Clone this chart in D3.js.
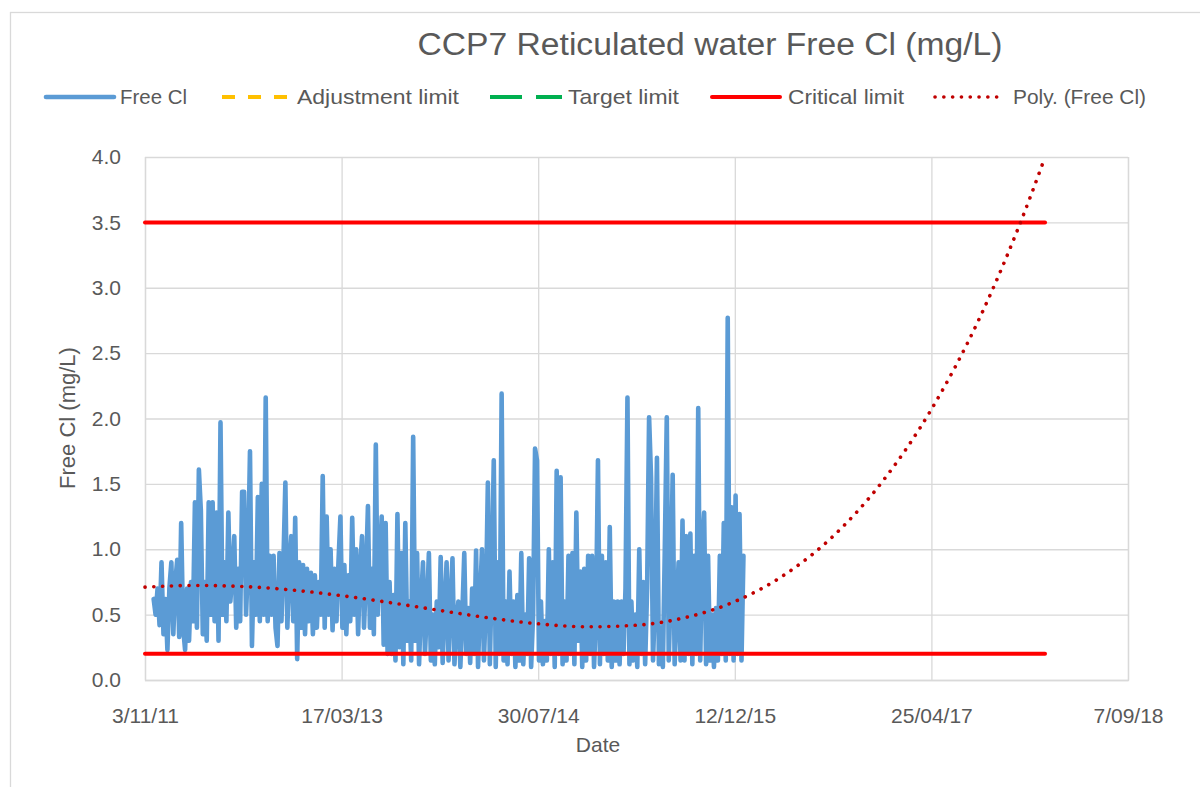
<!DOCTYPE html>
<html>
<head>
<meta charset="utf-8">
<script src="https://cdn.jsdelivr.net/npm/d3@7"></script>
<style>
  html, body { margin: 0; padding: 0; background: #fff; }
  svg { display: block; font-family: "Liberation Sans", Arial, sans-serif; }
</style>
</head>
<body>
<svg id="chart" width="1200" height="787"></svg>
<script>
// ---------- DATA ----------
const chartTitle = "CCP7 Reticulated water Free Cl (mg/L)";
const xTickDates = ["2011-11-03", "2013-03-17", "2014-07-30", "2015-12-12", "2017-04-25", "2018-09-07"];
const yTicks = [0, 0.5, 1.0, 1.5, 2.0, 2.5, 3.0, 3.5, 4.0];

// Free Cl readings, one every 5 days starting 25/11/2011
const freeClStart = "2011-11-25";
const freeClStepDays = 5;
const freeClValues = [
  0.62, 0.5, 0.7, 0.42, 0.9, 0.35, 0.62, 0.23, 0.7, 0.9,
  0.35, 0.75, 0.92, 0.33, 1.2, 0.4, 0.23, 0.7, 0.3, 0.75,
  0.45, 1.36, 0.4, 1.61, 1.3, 0.35, 0.75, 0.3, 1.36, 0.5,
  1.36, 0.45, 1.28, 0.3, 1.97, 0.5, 0.9, 0.45, 1.28, 0.6,
  0.8, 1.1, 0.4, 0.85, 0.45, 1.44, 1.44, 0.5, 0.9, 1.75,
  0.26, 0.9, 0.5, 1.4, 0.45, 1.5, 0.5, 2.16, 0.45, 0.95,
  0.5, 0.95, 0.4, 0.26, 0.97, 0.45, 0.9, 1.51, 0.4, 0.85,
  1.1, 0.45, 1.24, 0.16, 0.9, 0.4, 0.88, 0.35, 0.85, 0.45,
  0.82, 0.35, 0.8, 0.4, 0.75, 0.5, 1.56, 0.4, 1.25, 0.5,
  1.0, 0.38, 0.85, 0.45, 0.9, 1.25, 0.4, 0.88, 0.35, 0.8,
  0.45, 1.24, 0.5, 1.0, 0.35, 0.85, 1.1, 0.4, 0.8, 1.33,
  0.4, 0.85, 0.35, 1.8, 0.5, 0.9, 1.25, 0.27, 1.2, 0.2,
  0.75, 0.2, 0.65, 0.15, 1.27, 0.25, 0.97, 0.12, 1.2, 0.3,
  0.6, 0.15, 1.86, 0.3, 0.97, 0.12, 0.6, 0.9, 0.2, 0.55,
  0.97, 0.15, 0.5, 0.12, 0.6, 0.25, 0.94, 0.13, 0.55, 0.9,
  0.15, 0.6, 0.93, 0.12, 0.45, 0.6, 0.1, 0.5, 0.97, 0.2,
  0.55, 0.13, 0.7, 0.2, 0.99, 0.1, 0.6, 1.0, 0.15, 0.6,
  1.51, 0.12, 0.8, 1.68, 0.1, 0.9, 0.2, 2.19, 0.15, 0.6,
  0.12, 0.83, 0.2, 0.6, 0.1, 0.65, 0.15, 0.97, 0.12, 0.5,
  0.2, 0.93, 0.1, 0.5, 1.77, 1.68, 0.15, 0.6, 0.12, 0.45,
  0.15, 1.0, 0.2, 0.9, 0.1, 1.6, 0.2, 1.55, 0.12, 0.6,
  0.15, 0.95, 0.2, 0.97, 0.12, 1.28, 0.3, 0.83, 0.1, 0.85,
  0.15, 0.95, 0.2, 0.95, 0.1, 0.5, 1.68, 0.12, 0.95, 0.2,
  0.9, 0.15, 1.17, 0.1, 0.6, 0.15, 0.6, 0.12, 0.6, 0.2,
  0.7, 2.16, 0.12, 0.6, 0.15, 0.5, 0.1, 1.0, 0.2, 0.75,
  0.12, 0.7, 2.01, 1.55, 0.15, 0.6, 1.7, 0.12, 0.4, 0.1,
  1.0, 2.01, 0.15, 0.7, 1.57, 0.12, 0.5, 0.9, 0.15, 1.22,
  0.15, 1.1, 0.2, 1.12, 0.12, 0.95, 0.2, 2.08, 0.15, 1.0,
  1.28, 0.12, 0.95, 0.15, 0.5, 0.1, 0.55, 0.15, 0.95, 0.2,
  1.2, 0.15, 2.77, 0.2, 1.32, 0.15, 1.41, 0.2, 1.27, 0.15,
  0.95
];

// Critical limits (two horizontal series)
const limitDates = ["2011-11-03", "2018-02-08"];
const criticalUpper = [3.5, 3.5];
const criticalLower = [0.2, 0.2];

// Polynomial trend of Free Cl (days after 3/11/11, value)
const trendDays = [0, 125, 250, 375, 500, 625, 750, 875, 1000, 1125, 1250, 1375, 1500, 1625, 1750, 1875, 2000, 2125, 2250, 2289];
const trendValues = [0.71, 0.723, 0.715, 0.688, 0.645, 0.591, 0.532, 0.475, 0.43, 0.407, 0.419, 0.478, 0.6, 0.802, 1.10, 1.516, 2.07, 2.784, 3.682, 4.0];

const legendItems = [
  {name: "Free Cl", key: "free"},
  {name: "Adjustment limit", key: "adj"},
  {name: "Target limit", key: "target"},
  {name: "Critical limit", key: "critical"},
  {name: "Poly. (Free Cl)", key: "poly"}
];

// ---------- LAYOUT / STYLE ----------
const M = {left: 145, right: 1128, top: 157, bottom: 680};
const textColor = "#595959";
const gridColor = "#d9d9d9";
const styles = {
  free:     {stroke: "#5b9bd5", width: 4.6, dash: null, cap: "round"},
  adj:      {stroke: "#ffc000", width: 4, dash: "13 13", cap: "butt"},
  target:   {stroke: "#00b050", width: 4, dash: "32 14", cap: "butt"},
  critical: {stroke: "#ff0000", width: 4, dash: null, cap: "round"},
  poly:     {stroke: "#c00000", width: 3.6, dash: "0.1 8.7", cap: "round"}
};

const parse = d3.utcParse("%Y-%m-%d");
const svg = d3.select("#chart");

// chart border
svg.append("rect").attr("x", 10.5).attr("y", 12.5).attr("width", 1400).attr("height", 1000)
  .attr("fill", "#fff").attr("stroke", gridColor).attr("stroke-width", 1.3);

const x = d3.scaleUtc().domain([parse(xTickDates[0]), parse(xTickDates[xTickDates.length - 1])]).range([M.left, M.right]);
const y = d3.scaleLinear().domain([0, 4]).range([M.bottom, M.top]);

// gridlines + axes
const yAxis = svg.append("g").attr("transform", `translate(${M.left},0)`)
  .call(d3.axisLeft(y).tickValues(yTicks).tickSize(-(M.right - M.left)).tickPadding(24).tickFormat(d3.format(".1f")));
yAxis.select(".domain").remove();
yAxis.selectAll("line").attr("stroke", gridColor).attr("stroke-width", 1.3);
yAxis.selectAll("text").attr("fill", textColor).style("font-size", "21px").attr("font-family", null);

const fmt = d3.utcFormat("%-d/%m/%y");
const xAxis = svg.append("g").attr("transform", `translate(0,${M.bottom})`)
  .call(d3.axisBottom(x).tickValues(xTickDates.map(parse)).tickSize(-(M.bottom - M.top)).tickPadding(28).tickFormat(fmt));
xAxis.select(".domain").attr("stroke", gridColor).attr("stroke-width", 1.3);
xAxis.selectAll("line").attr("stroke", gridColor).attr("stroke-width", 1.3);
xAxis.selectAll("text").attr("fill", textColor).style("font-size", "21px").attr("font-family", null);

// clip
svg.append("clipPath").attr("id", "plotClip").append("rect")
  .attr("x", M.left - 5).attr("y", M.top - 2).attr("width", M.right - M.left + 10).attr("height", M.bottom - M.top + 10);
const plot = svg.append("g").attr("clip-path", "url(#plotClip)");

function styled(path, s) {
  path.attr("fill", "none").attr("stroke", s.stroke).attr("stroke-width", s.width)
    .attr("stroke-linecap", s.cap).attr("stroke-linejoin", "round");
  if (s.dash) path.attr("stroke-dasharray", s.dash);
  return path;
}

// Free Cl series
const start = parse(freeClStart);
const freeCl = freeClValues.map((v, i) => ({date: d3.utcDay.offset(start, i * freeClStepDays), value: v}));
const line = d3.line().x(d => x(d.date)).y(d => y(d.value));
styled(plot.append("path").datum(freeCl).attr("d", line), styles.free);

// Critical limits
[criticalUpper, criticalLower].forEach(vals => {
  const pts = limitDates.map((d, i) => ({date: parse(d), value: vals[i]}));
  styled(plot.append("path").datum(pts).attr("d", line), styles.critical);
});

// Poly trend
const t0 = parse(xTickDates[0]);
const trend = trendDays.map((d, i) => ({date: d3.utcDay.offset(t0, d), value: trendValues[i]}));
styled(plot.append("path").datum(trend).attr("d", line.curve(d3.curveMonotoneX)), styles.poly);

// Title
svg.append("text").attr("x", 710).attr("y", 55).attr("text-anchor", "middle")
  .attr("fill", textColor).style("font-size", "31px")
  .attr("textLength", 585).attr("lengthAdjust", "spacingAndGlyphs").text(chartTitle);

// Axis titles
svg.append("text").attr("x", 598).attr("y", 752).attr("text-anchor", "middle")
  .attr("fill", textColor).style("font-size", "21px").text("Date");
svg.append("text").attr("transform", "translate(75,418) rotate(-90)").attr("text-anchor", "middle")
  .attr("fill", textColor).style("font-size", "22px").text("Free Cl (mg/L)");

// Legend
const legendPos = [
  {x1: 46, x2: 114, tx: 120, tl: 67},
  {x1: 222, x2: 292, tx: 297, tl: 162},
  {x1: 490, x2: 562, tx: 568, tl: 111},
  {x1: 712, x2: 780, tx: 788, tl: 116},
  {x1: 935, x2: 1000, tx: 1013, tl: 133}
];
const legendY = 97;
const lg = svg.append("g");
legendItems.forEach((it, i) => {
  const p = legendPos[i];
  const s = styles[it.key];
  styled(lg.append("line").attr("x1", p.x1).attr("x2", p.x2).attr("y1", legendY).attr("y2", legendY), s);
  lg.append("text").attr("x", p.tx).attr("y", legendY + 7).attr("fill", textColor).style("font-size", "21px")
    .attr("textLength", p.tl).attr("lengthAdjust", "spacingAndGlyphs").text(it.name);
});
</script>
</body>
</html>
